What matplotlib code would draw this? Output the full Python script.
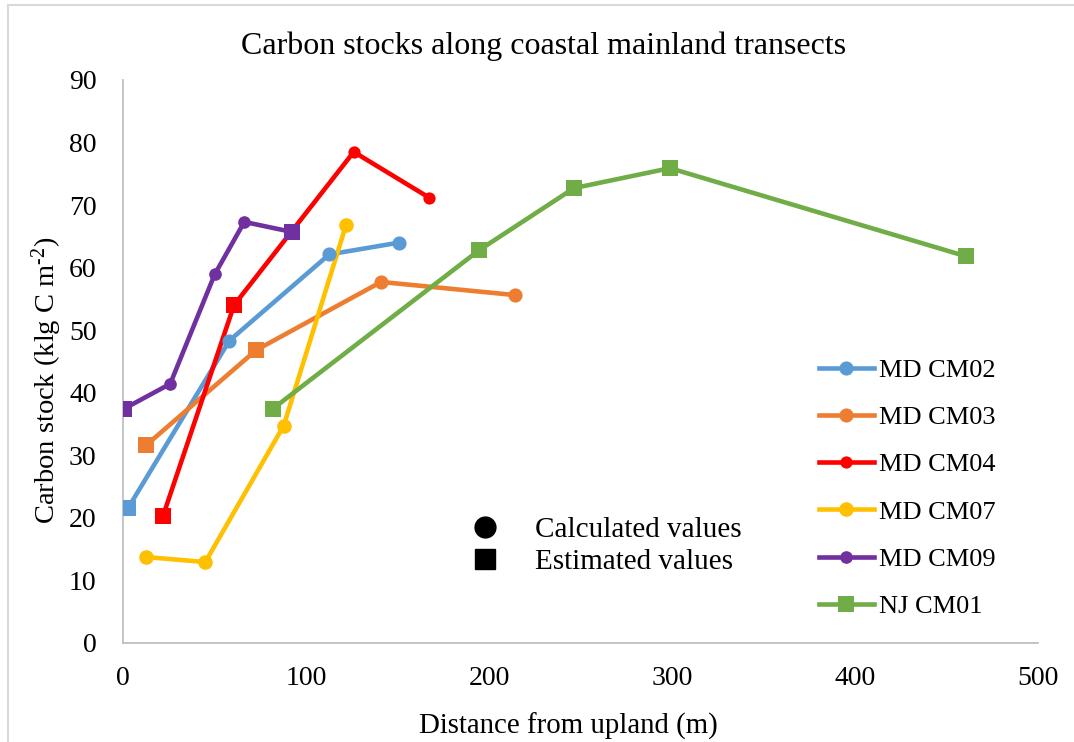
import matplotlib
matplotlib.use("Agg")
import matplotlib.pyplot as plt
from matplotlib.lines import Line2D
from matplotlib.patches import Rectangle

plt.rcParams['font.family'] = ['Liberation Serif', 'DejaVu Serif']
plt.rcParams['mathtext.fontset'] = 'custom'
plt.rcParams['mathtext.rm'] = 'Liberation Serif'
plt.rcParams['mathtext.it'] = 'Liberation Serif:italic'

# distance from upland (m), carbon stock, and whether each point was calculated (o) or estimated (s)
cm02_x = [2.9, 58.1, 112.7, 151.0]
cm02_y = [21.6, 48.3, 62.1, 64.0]
cm02_m = ['s', 'o', 'o', 'o']

cm03_x = [12.7, 72.8, 141.0, 214.2]
cm03_y = [31.6, 46.8, 57.7, 55.6]
cm03_m = ['s', 's', 'o', 'o']

cm04_x = [21.9, 60.7, 126.1, 167.2]
cm04_y = [20.3, 54.0, 78.5, 71.2]
cm04_m = ['s', 's', 'o', 'o']

cm07_x = [12.7, 45.0, 87.8, 121.9]
cm07_y = [13.7, 12.9, 34.7, 66.8]
cm07_m = ['o', 'o', 'o', 'o']

cm09_x = [0.5, 25.8, 50.1, 66.3, 92.3]
cm09_y = [37.4, 41.4, 58.9, 67.3, 65.7]
cm09_m = ['s', 'o', 'o', 'o', 's']

nj01_x = [81.8, 194.7, 246.4, 298.9, 460.7]
nj01_y = [37.4, 62.8, 72.7, 75.9, 61.8]
nj01_m = ['s', 's', 's', 's', 's']

# name, x, y, marker kinds, colour, circle size
series = [
    ("MD CM02", cm02_x, cm02_y, cm02_m, "#5B9BD5", 10.2),
    ("MD CM03", cm03_x, cm03_y, cm03_m, "#ED7D31", 10.2),
    ("MD CM04", cm04_x, cm04_y, cm04_m, "#FF0000", 8.8),
    ("MD CM07", cm07_x, cm07_y, cm07_m, "#FFC000", 10.5),
    ("MD CM09", cm09_x, cm09_y, cm09_m, "#7030A0", 9.1),
    ("NJ CM01", nj01_x, nj01_y, nj01_m, "#70AD47", 12.2),
]
square_ms = 11.8

fig = plt.figure(figsize=(10.74, 7.42), dpi=100)
ax = fig.add_axes([0.1145, 0.1338, 0.852, 0.7584])

handles = []
for name, xs, ys, marks, color, ms in series:
    ax.plot(xs, ys, color=color, lw=3.3, zorder=2)
    for x, y, m in zip(xs, ys, marks):
        size = square_ms if m == 's' else ms
        ax.plot([x], [y], marker=m, color=color, ms=size, mew=0, ls='none', zorder=3)
    key = 's' if name.startswith("NJ") else 'o'
    handles.append(Line2D([], [], color=color, lw=3.3, marker=key, ms=ms, mew=0))

ax.set_xlim(0, 500)
ax.set_ylim(0, 90)
ax.set_xticks(range(0, 501, 100))
ax.set_yticks(range(0, 91, 10))
ax.tick_params(length=0, labelsize=20)
ax.tick_params(axis='y', pad=19)
ax.tick_params(axis='x', pad=17)
for side in ['top', 'right']:
    ax.spines[side].set_visible(False)
for side in ['left', 'bottom']:
    ax.spines[side].set_color('#BFBFBF')
    ax.spines[side].set_linewidth(1.3)

ax.set_xlabel("Distance from upland (m)", fontsize=20.8)
ax.set_ylabel(r"Carbon stock (klg C m$^{\text{-}2}$)", fontsize=20.5)
ax.yaxis.set_label_coords(-0.064, 0.467)
ax.xaxis.set_label_coords(0.487, -0.125)

fig.text(0.506, 0.937, "Carbon stocks along coastal mainland transects",
         ha='center', va='center', fontsize=23)

leg = ax.legend(handles, [s[0] for s in series], loc='upper left',
                bbox_to_anchor=(0.7486, 0.524), frameon=False, fontsize=19,
                handlelength=2.1, handletextpad=0.2, labelspacing=0.9,
                borderaxespad=0)
ax.add_artist(leg)

kind_handles = [Line2D([], [], color='black', marker='o', ms=15, ls='none'),
                Line2D([], [], color='black', marker='s', ms=14.5, ls='none')]
ax.legend(kind_handles, ["Calculated values", "Estimated values"], loc='upper left',
          bbox_to_anchor=(0.367, 0.245), frameon=False, fontsize=21,
          handlelength=1.0, handletextpad=1.21, labelspacing=0.2, borderaxespad=0)

# light outline round the chart area
fig.patches.append(Rectangle((8 / 1074, -0.05), 1.2, 1 - 5 / 742 + 0.05,
                             transform=fig.transFigure, fill=False,
                             edgecolor='#D9D9D9', lw=1.5))

fig.savefig("out.png", dpi=100)
